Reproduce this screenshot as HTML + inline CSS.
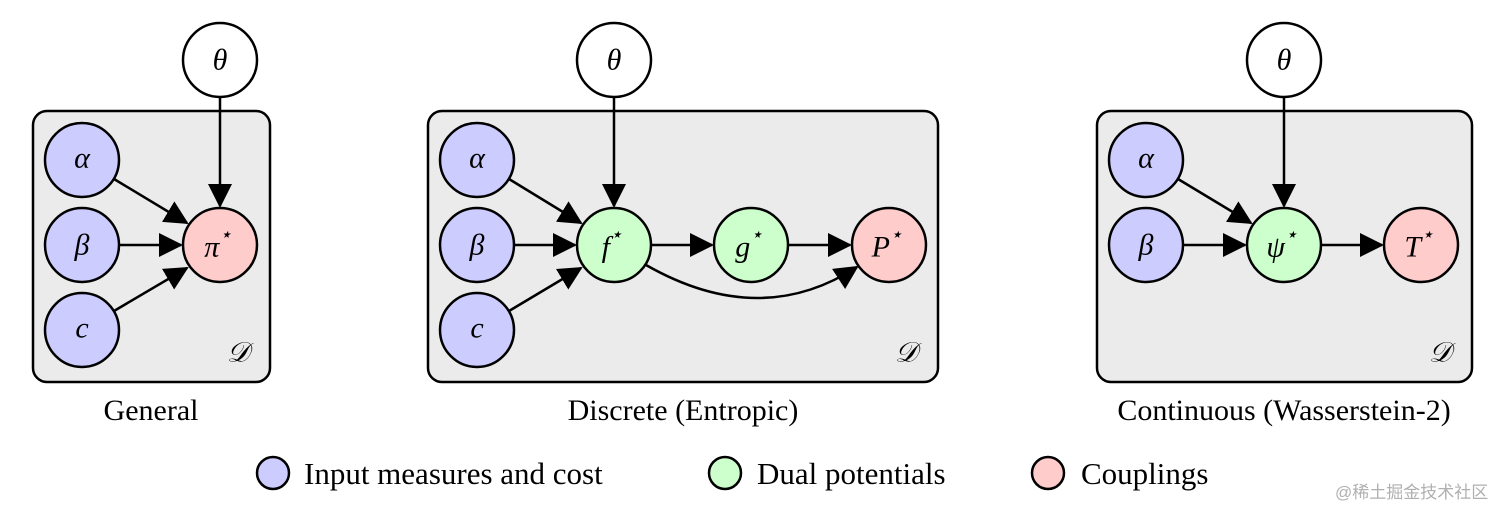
<!DOCTYPE html>
<html><head><meta charset="utf-8"><style>
html,body{margin:0;padding:0;background:#fff;}
svg{display:block;}
.n{stroke:#000;stroke-width:2.5;}
.m{font-family:"Liberation Serif",serif;font-style:italic;font-size:30px;text-anchor:middle;dominant-baseline:central;}
.cap{font-family:"Liberation Serif",serif;font-size:30px;text-anchor:middle;}
.leg{font-family:"Liberation Serif",serif;font-size:31px;}
.e{stroke:#000;stroke-width:2.5;fill:none;marker-end:url(#a);}
</style></head><body>
<svg width="1512" height="517" viewBox="0 0 1512 517" xmlns="http://www.w3.org/2000/svg">
<defs><marker id="a" markerUnits="userSpaceOnUse" markerWidth="24" markerHeight="24" refX="22" refY="12" orient="auto"><path d="M0,0 L24,12 L0,24 Z" fill="#000"/></marker></defs>
<g fill="#ebebeb" stroke="#000" stroke-width="2.5">
<rect x="33" y="111" width="237" height="271" rx="14"/>
<rect x="428" y="111" width="510" height="271" rx="14"/>
<rect x="1097" y="111" width="375" height="271" rx="14"/>
</g>
<!-- edges panel 1 -->
<path class="e" d="M220,97 V206"/>
<path class="e" d="M114,179 L187,223"/>
<path class="e" d="M119,245 H181"/>
<path class="e" d="M114,311 L187,268"/>
<!-- panel 2 -->
<path class="e" d="M614,97 V206"/>
<path class="e" d="M509,179 L581,223"/>
<path class="e" d="M514,245 H575"/>
<path class="e" d="M509,311 L581,268"/>
<path class="e" d="M651,245 H712"/>
<path class="e" d="M788,245 H850"/>
<path class="e" d="M646,265 Q760,330 857,267"/>
<!-- panel 3 -->
<path class="e" d="M1284,97 V206"/>
<path class="e" d="M1178,179 L1251,223"/>
<path class="e" d="M1183,245 H1245"/>
<path class="e" d="M1321,245 H1382"/>
<g class="n">
<circle cx="220" cy="60" r="37" fill="#fff"/>
<circle cx="82" cy="160" r="37" fill="#ccccff"/><circle cx="82" cy="245" r="37" fill="#ccccff"/><circle cx="82" cy="330" r="37" fill="#ccccff"/>
<circle cx="220" cy="245" r="37" fill="#ffcccc"/>
<circle cx="614" cy="60" r="37" fill="#fff"/>
<circle cx="477" cy="160" r="37" fill="#ccccff"/><circle cx="477" cy="245" r="37" fill="#ccccff"/><circle cx="477" cy="330" r="37" fill="#ccccff"/>
<circle cx="614" cy="245" r="37" fill="#ccffcc"/><circle cx="751" cy="245" r="37" fill="#ccffcc"/><circle cx="889" cy="245" r="37" fill="#ffcccc"/>
<circle cx="1284" cy="60" r="37" fill="#fff"/>
<circle cx="1146" cy="160" r="37" fill="#ccccff"/><circle cx="1146" cy="245" r="37" fill="#ccccff"/>
<circle cx="1284" cy="245" r="37" fill="#ccffcc"/><circle cx="1421" cy="245" r="37" fill="#ffcccc"/>
<circle cx="273" cy="473" r="16" fill="#ccccff"/><circle cx="725" cy="473" r="16" fill="#ccffcc"/><circle cx="1048" cy="473" r="16" fill="#ffcccc"/>
</g>
<g class="m">
<text x="220" y="60">θ</text><text x="82" y="158">α</text><text x="82" y="245">β</text><text x="82" y="328">c</text><text x="218" y="247">π<tspan font-size="20" dy="-12">⋆</tspan></text>
<text x="614" y="60">θ</text><text x="477" y="158">α</text><text x="477" y="245">β</text><text x="477" y="328">c</text>
<text x="612" y="247">f<tspan font-size="20" dy="-12">⋆</tspan></text><text x="749" y="247">g<tspan font-size="20" dy="-12">⋆</tspan></text><text x="887" y="247">P<tspan font-size="20" dy="-12">⋆</tspan></text>
<text x="1284" y="60">θ</text><text x="1146" y="158">α</text><text x="1146" y="245">β</text>
<text x="1282" y="247">ψ<tspan font-size="20" dy="-12">⋆</tspan></text><text x="1419" y="247">T<tspan font-size="20" dy="-12">⋆</tspan></text>
<text x="238" y="353" font-size="28">𝒟</text><text x="906" y="353" font-size="28">𝒟</text><text x="1440" y="353" font-size="28">𝒟</text>
</g>
<text class="cap" x="151" y="420">General</text>
<text class="cap" x="683" y="420">Discrete (Entropic)</text>
<text class="cap" x="1284" y="420">Continuous (Wasserstein-2)</text>
<text class="leg" x="304" y="484">Input measures and cost</text>
<text class="leg" x="757" y="484">Dual potentials</text>
<text class="leg" x="1081" y="484">Couplings</text>
<text x="1335" y="498" font-family="'Liberation Sans','Noto Sans CJK SC',sans-serif" font-size="17" fill="#b0b0b0">@稀土掘金技术社区</text>
</svg>
</body></html>
